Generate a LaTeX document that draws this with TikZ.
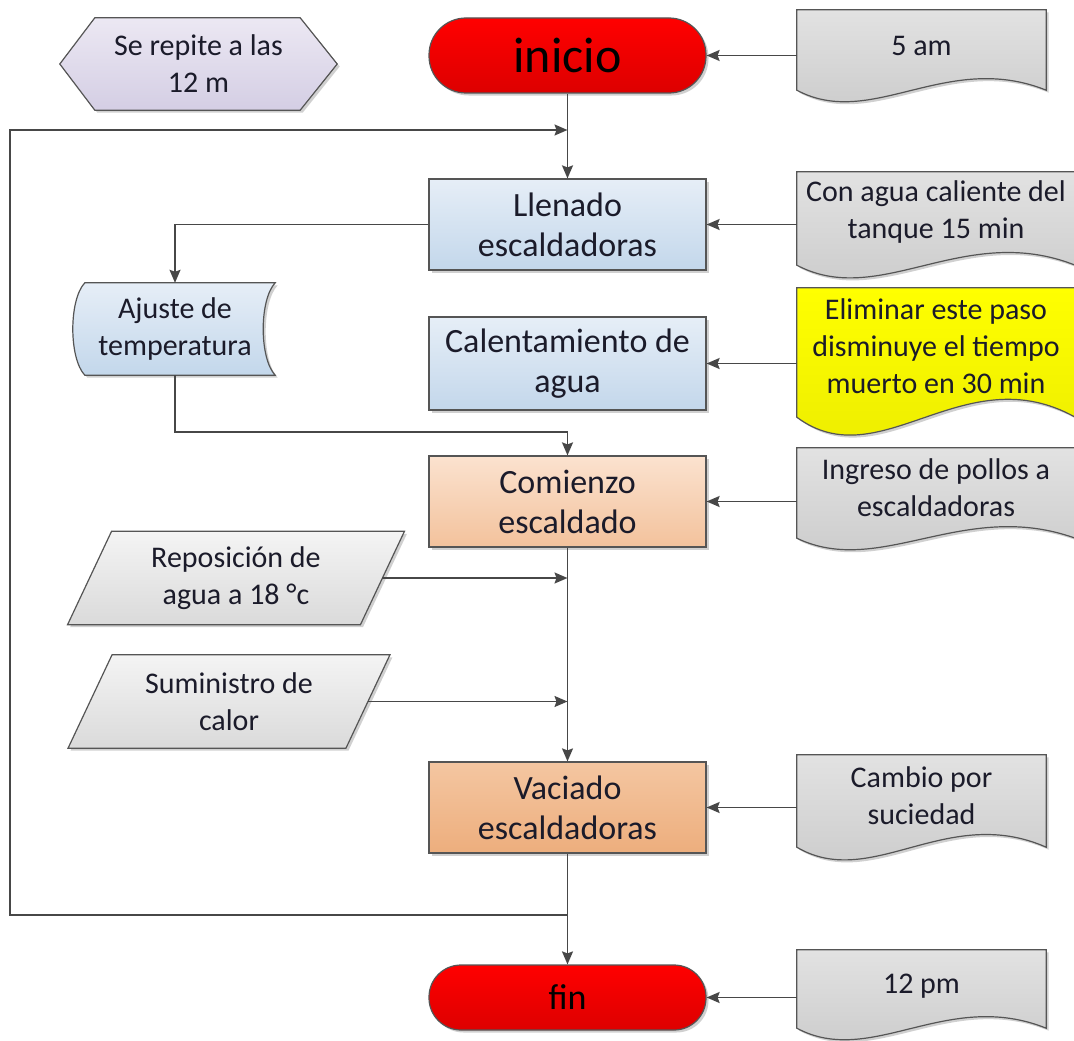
\documentclass[tikz,border=0pt]{standalone}
\usepackage{fontspec}
\setmainfont{Carlito}
\usetikzlibrary{arrows.meta,shadows,calc}
\pgfdeclarelayer{background}
\pgfdeclarelayer{canvas}
\pgfsetlayers{canvas,background,main}
\definecolor{edge}{HTML}{555555}
\definecolor{wire}{HTML}{474747}
\definecolor{ink}{HTML}{1B1B2A}
\definecolor{redtop}{HTML}{FF0000}
\definecolor{redbot}{HTML}{DD0000}
\definecolor{lavtop}{HTML}{ECE8F3}
\definecolor{lavbot}{HTML}{D4CEE4}
\definecolor{bluetop}{HTML}{E6EEF7}
\definecolor{bluebot}{HTML}{C3D7EB}
\definecolor{pchtop}{HTML}{FBE2CF}
\definecolor{pchbot}{HTML}{F3C29C}
\definecolor{orgtop}{HTML}{F4C6A1}
\definecolor{orgbot}{HTML}{EDAE7D}
\definecolor{gtop}{HTML}{E2E2E2}
\definecolor{gbot}{HTML}{C8C8C8}
\definecolor{ltop}{HTML}{F4F4F4}
\definecolor{lbot}{HTML}{DADADA}
\definecolor{ytop}{HTML}{FFFF00}
\definecolor{ybot}{HTML}{EAEA00}
% #1 node, #2 drop of the bottom corners below the node, #3 wave control amplitude, #4 style
\newcommand\docshape[4]{%
  \path[#4] (#1.north west) -- (#1.north east) -- ($(#1.south east)+(0,#2)$)
    .. controls ($(#1.south east)!0.4!(#1.south west)+(0,#2-#3)$) and ($(#1.south west)!0.3!(#1.south east)+(0,#2+#3)$) .. ($(#1.south west)+(0,#2)$) -- cycle;}
\newcommand\paragram[2]{%
  \path[#2] ($(#1.north west)+(22,0)$) -- ($(#1.north east)+(22,0)$) -- ($(#1.south east)+(-22,0)$) -- ($(#1.south west)+(-22,0)$) -- cycle;}
\begin{document}
\begin{tikzpicture}[x=1pt,y=-1pt,
  shd/.style={drop shadow={shadow xshift=2.5pt,shadow yshift=-2.5pt,opacity=0.3,fill=black!60}},
  outline/.style={draw=edge,line width=1.2pt},
  txt/.style={text=ink,align=center,inner sep=0pt,font=\fontsize{30}{37}\selectfont},
  bigtxt/.style={txt,font=\fontsize{34}{40}\selectfont},
  proc/.style={bigtxt,rectangle,outline,shd,minimum width=277pt,minimum height=91pt},
  term/.style={rectangle,outline,shd,text=black,minimum width=277pt,top color=redtop,bottom color=redbot},
  holder/.style={txt,rectangle},
  wire/.style={draw=wire,line width=1.6pt},
  arr/.style={wire,-{Stealth[length=13pt,width=11pt,inset=2pt]}}]
\useasboundingbox (0,0) rectangle (1074,1041);
\begin{pgfonlayer}{canvas}
  \fill[white] (0,0) rectangle (1074,1041);
\end{pgfonlayer}

\node[holder,minimum width=277pt,minimum height=92pt] (hex) at (198.5,64) {Se repite a las\\12 m};
\node[term,minimum height=75pt,rounded corners=37pt,font=\fontsize{50}{60}\selectfont] (ini) at (567.5,55.5) {inicio};
\node[holder,minimum width=249pt,minimum height=72pt] (d5) at (921.5,46) {5 am};
\node[proc,top color=bluetop,bottom color=bluebot] (lle) at (567.5,224.5) {Llenado\\escaldadoras};
\node[holder,minimum width=278pt,minimum height=80pt] (dag) at (936,212) {Con agua caliente del\\tanque 15 min};
\node[holder,minimum width=200pt,minimum height=92pt] (aj) at (175,329) {Ajuste de\\temperatura};
\node[proc,top color=bluetop,bottom color=bluebot,minimum height=93pt] (cal) at (567.5,363.5) {Calentamiento de\\agua};
\node[holder,minimum width=278pt,minimum height=116pt] (dy) at (936,346) {Eliminar este paso\\disminuye el tiempo\\muerto en 30 min};
\node[proc,top color=pchtop,bottom color=pchbot] (com) at (567.5,501.5) {Comienzo\\escaldado};
\node[holder,minimum width=278pt,minimum height=80pt] (din) at (936,488) {Ingreso de pollos a\\escaldadoras};
\node[holder,minimum width=292.5pt,minimum height=93pt] (rep) at (236,578) {Reposición de\\agua a 18 °c};
\node[holder,minimum width=277.5pt,minimum height=93pt] (sum) at (229,701.5) {Suministro de\\calor};
\node[proc,top color=orgtop,bottom color=orgbot] (vac) at (567.5,807.5) {Vaciado\\escaldadoras};
\node[holder,minimum width=249pt,minimum height=82pt] (dca) at (921.5,796) {Cambio por\\suciedad};
\node[term,minimum height=65pt,rounded corners=32pt,font=\fontsize{36}{42}\selectfont] (fin) at (567.5,997.5) {fin};
\node[holder,minimum width=249pt,minimum height=72pt] (d12) at (921.5,986) {12 pm};

\begin{pgfonlayer}{background}
  \path[outline,shd,top color=lavtop,bottom color=lavbot] (hex.west) -- ($(hex.north west)+(35,0)$) -- ($(hex.north east)+(-37,0)$) -- (hex.east) -- ($(hex.south east)+(-37,0)$) -- ($(hex.south west)+(35,0)$) -- cycle;
  \docshape{d5}{8}{40}{outline,shd,top color=gtop,bottom color=gbot}
  \docshape{dag}{13}{44}{outline,shd,top color=gtop,bottom color=gbot}
  \docshape{dy}{13}{62}{outline,shd,top color=ytop,bottom color=ybot}
  \docshape{din}{10}{40}{outline,shd,top color=gtop,bottom color=gbot}
  \docshape{dca}{10}{44}{outline,shd,top color=gtop,bottom color=gbot}
  \docshape{d12}{6}{40}{outline,shd,top color=gtop,bottom color=gbot}
  \paragram{rep}{outline,shd,top color=ltop,bottom color=lbot}
  \paragram{sum}{outline,shd,top color=ltop,bottom color=lbot}
  \path[outline,shd,top color=bluetop,bottom color=bluebot] ($(aj.north west)+(10,0)$) -- (aj.north east)
    .. controls ($(aj.north east)+(-16,17)$) and ($(aj.south east)+(-16,-17)$) .. (aj.south east)
    -- ($(aj.south west)+(10,0)$)
    .. controls ($(aj.south west)+(-6,-17)$) and ($(aj.north west)+(-6,17)$) .. ($(aj.north west)+(10,0)$) -- cycle;
\end{pgfonlayer}

\coordinate (jA) at (567.5,432);
\coordinate (lpB) at (567.5,915);
\coordinate (lpL) at (10,915);
\coordinate (lpT) at (567.5,130);

\draw[arr] (d5.west |- ini.east) -- (ini.east);
\draw[arr] (ini.south) -- (lle.north);
\draw[arr] (dag.west |- lle.east) -- (lle.east);
\draw[arr] (lle.west) -| (aj.north);
\draw[arr] (aj.south) |- (jA) -- (com.north);
\draw[arr] (dy.west |- cal.east) -- (cal.east);
\draw[arr] (din.west |- com.east) -- (com.east);
\draw[arr] (com.south) -- (vac.north);
\draw[arr] (rep.east) -- (rep.east -| com.south);
\draw[arr] (sum.east) -- (sum.east -| com.south);
\draw[arr] (dca.west |- vac.east) -- (vac.east);
\draw[arr] (vac.south) -- (fin.north);
\draw[arr] (lpB) -- (lpL) |- (lpT);
\draw[arr] (d12.west |- fin.east) -- (fin.east);
\end{tikzpicture}
\end{document}
